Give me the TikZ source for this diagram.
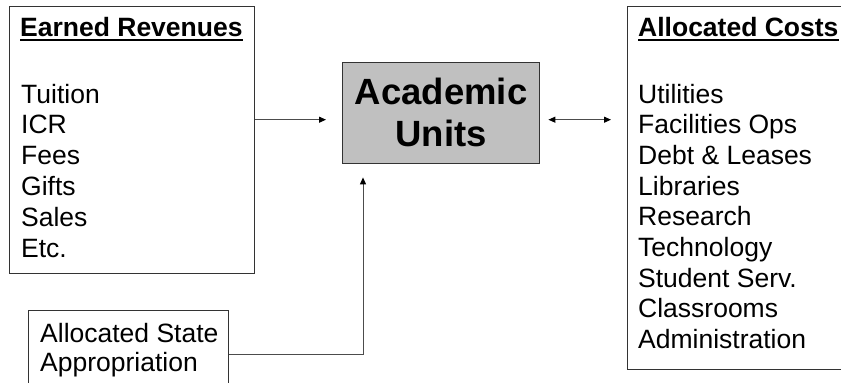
\documentclass[tikz,border=0pt]{standalone}
\usepackage{fontspec}
\setmainfont{Liberation Sans}
\usetikzlibrary{arrows.meta,calc}
\definecolor{unitgray}{RGB}{192,192,192}
\begin{document}
\begin{tikzpicture}[x=1pt,y=-1pt,
  frame/.style={draw=black!80, line width=1.4pt, rectangle, inner sep=0pt, anchor=north west},
  item/.style={anchor=base west, inner sep=0pt, font=\fontsize{26.5}{30}\selectfont},
  head/.style={anchor=base west, inner sep=0pt, font=\fontsize{26.5}{30}\selectfont\bfseries},
  link/.style={draw=black!70, line width=1pt},
  head tip/.tip={Triangle[length=7pt,width=6pt,color=black]},
  tip/.style={-head tip}
]
\useasboundingbox (0,0) rectangle (841,383);

% boxes
\node[frame, minimum width=245, minimum height=267] (rev) at (9,6) {};
\node[frame, minimum width=240, minimum height=363] (cost) at (627,6) {};
\node[frame, minimum width=197, minimum height=101, fill=unitgray] (acad) at (342,62) {};
\node[frame, minimum width=200, minimum height=100] (state) at (28,310) {};

% centre label
\node[font=\fontsize{36.5}{42}\selectfont\bfseries, align=center, inner sep=0pt] (acadtxt) at ($(acad.center)+(0,-0.5)$) {Academic\\Units};

% earned revenues
\node[head] (revhead) at (20,36) {Earned Revenues};
\draw[line width=2pt] ($(revhead.base west)+(0,4)$) -- ($(revhead.base east)+(0,4)$);
\foreach \t [count=\i from 0] in {Tuition,ICR,Fees,Gifts,Sales,Etc.}
  \node[item] (rev\i) at (21,103+30.8*\i) {\t};

% allocated costs
\node[head] (costhead) at (638,36) {Allocated Costs};
\draw[line width=2pt] ($(costhead.base west)+(0,4)$) -- ($(costhead.base east)+(0,4)$);
\foreach \t [count=\i from 0] in {Utilities,Facilities Ops,Debt \& Leases,Libraries,Research,Technology,Student Serv.,Classrooms,Administration}
  \node[item] (cost\i) at (638,103+30.7*\i) {\t};

% state appropriation
\node[item] (st0) at (40,342) {Allocated State};
\node[item] (st1) at (40,371) {Appropriation};

% connectors
\coordinate (inrow) at ($(acad.west)+(0,6.5)$);
\coordinate (outrow) at ($(acad.east)+(0,6.5)$);
\coordinate (bend) at ($(acad.south west)+(21,190)$);
\draw[link, tip, shorten >=16pt] (rev.east |- inrow) -- (inrow);
\draw[link, head tip-head tip, shorten <=8pt, shorten >=16pt] (outrow) -- (cost.west |- outrow);
\draw[link, tip, shorten >=13pt] (state.east |- bend) -- (bend) -- (bend |- acad.south);
\end{tikzpicture}
\end{document}
